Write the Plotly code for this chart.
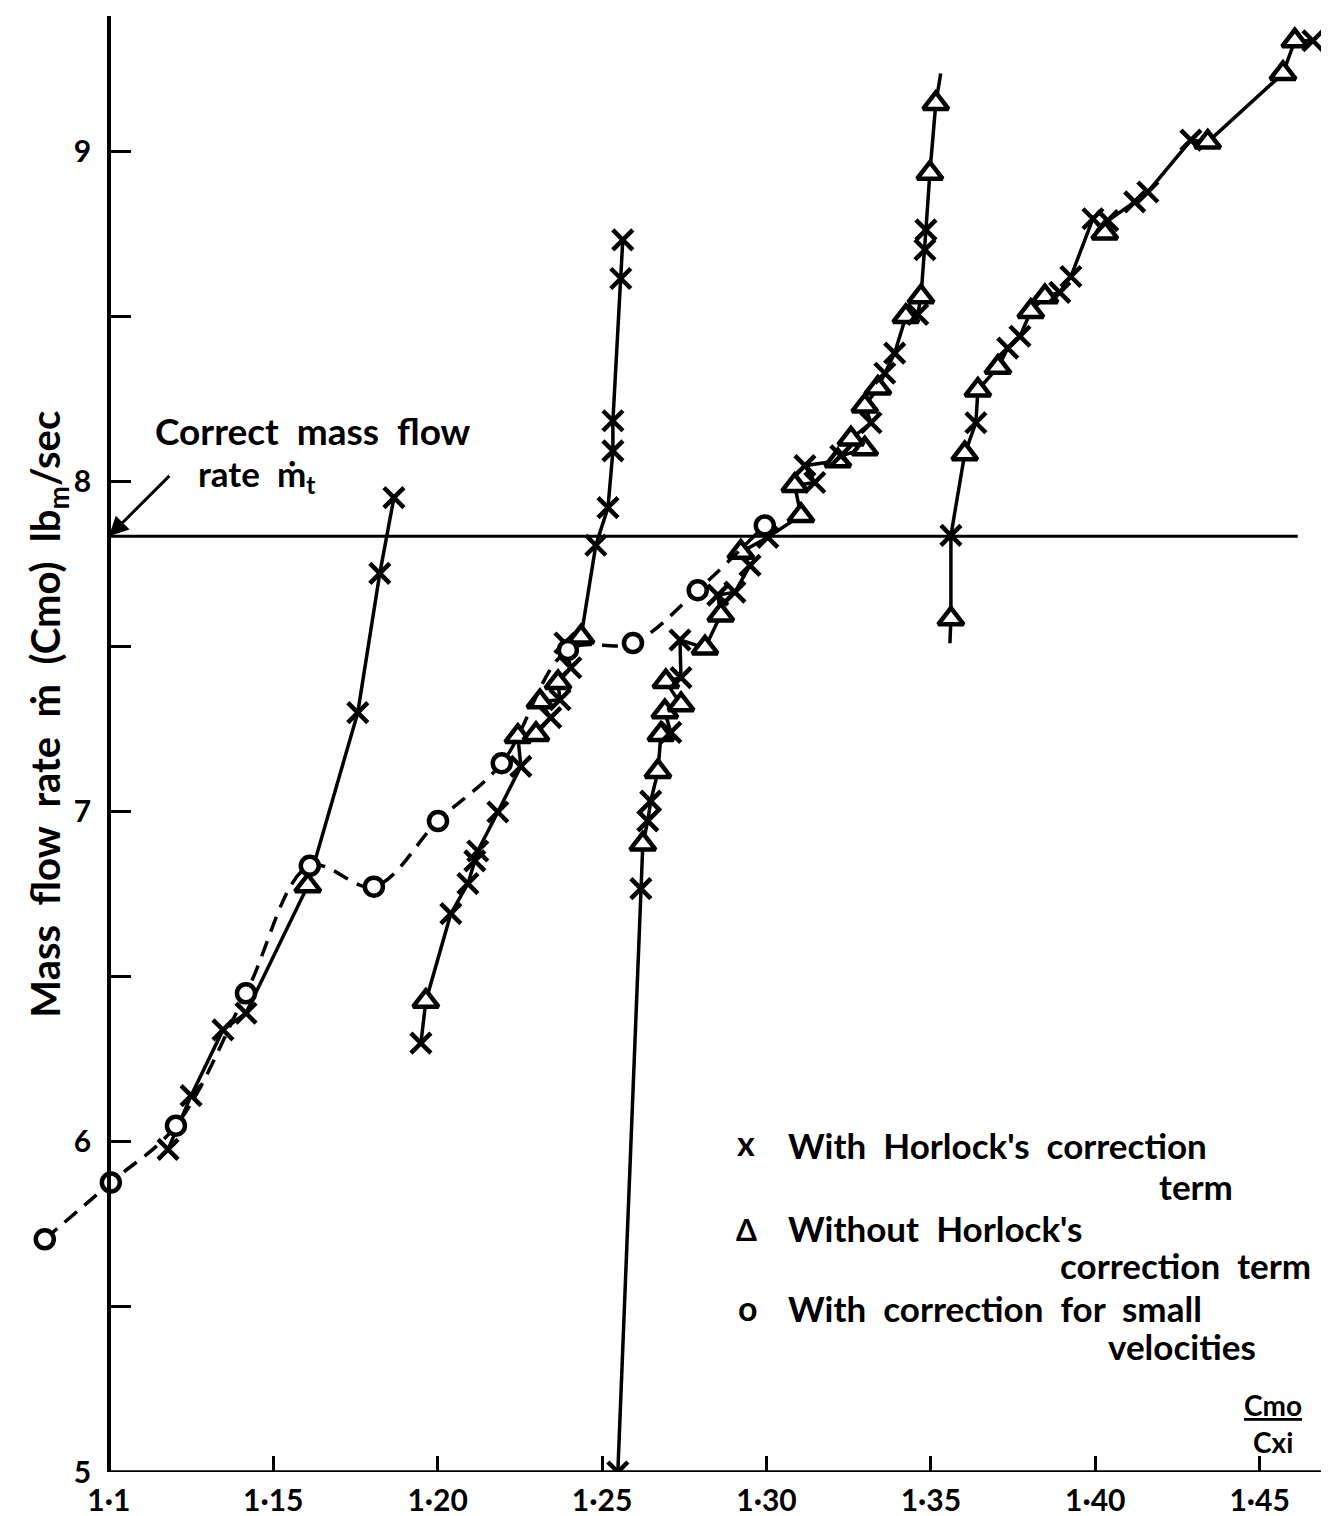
import plotly.graph_objects as go

# ---------------- data ----------------
# Curve with correction for small velocities (dashed, circles)
SMALL_VEL_X = [1.0805, 1.1006, 1.1204, 1.1417, 1.1611, 1.1806, 1.2001, 1.2195, 1.2396, 1.2594, 1.2791, 1.2995]
SMALL_VEL_Y = [5.705, 5.877, 6.049, 6.450, 6.836, 6.773, 6.972, 7.147, 7.490, 7.511, 7.671, 7.867]
SMALL_VEL_K = ['o'] * 12

# Solid curve 1 (left)
C1_X = [1.1180, 1.1250, 1.1347, 1.1417, 1.1605, 1.1757, 1.1824, 1.1867]
C1_Y = [5.977, 6.140, 6.339, 6.390, 6.776, 7.300, 7.722, 7.951]
C1_K = ['x', 'x', 'x', 'x', 'tri', 'x', 'x', 'x']

# Solid curve 2
C2_X = [1.1949, 1.1964, 1.2040, 1.2092, 1.2113, 1.2122, 1.2183, 1.2253, 1.2244, 1.2299, 1.2344,
        1.2311, 1.2372, 1.2366, 1.2405, 1.2387, 1.2436, 1.2481, 1.2518, 1.2533, 1.2533, 1.2557, 1.2563]
C2_Y = [6.299, 6.426, 6.691, 6.782, 6.851, 6.881, 6.999, 7.137, 7.228, 7.234, 7.285,
        7.333, 7.339, 7.391, 7.436, 7.511, 7.529, 7.807, 7.921, 8.093, 8.184, 8.615, 8.732]
C2_K = ['x', 'tri', 'x', 'x', 'x', 'x', 'x', 'x', 'tri', 'tri', 'x',
        'tri', 'x', 'tri', 'x', 'x', 'tri', 'x', 'x', 'x', 'x', 'x', 'x']

# Solid curve 3 (steep, from the axis up to ~9.2)
C3_X = [1.2548, 1.2618, 1.2624, 1.2639, 1.2648, 1.2670, 1.2679, 1.2709, 1.2691, 1.2740, 1.2694,
        1.2740, 1.2737, 1.2813, 1.2861, 1.2852, 1.2904, 1.2950, 1.2922, 1.3004, 1.3105, 1.3086,
        1.3147, 1.3117, 1.3217, 1.3226, 1.3299, 1.3257, 1.3318, 1.3299, 1.3339, 1.3360, 1.3390,
        1.3424, 1.3460, 1.3470, 1.3482, 1.3485, 1.3497, 1.3515, 1.3530]
C3_Y = [5.000, 6.767, 6.902, 6.972, 7.032, 7.122, 7.234, 7.240, 7.303, 7.324, 7.394,
        7.406, 7.520, 7.496, 7.596, 7.656, 7.665, 7.746, 7.786, 7.831, 7.897, 7.988,
        7.997, 8.048, 8.063, 8.078, 8.099, 8.129, 8.178, 8.229, 8.283, 8.328, 8.389,
        8.500, 8.506, 8.560, 8.702, 8.762, 8.934, 9.145, 9.236]
C3_K = ['x', 'x', 'tri', 'x', 'x', 'tri', 'tri', 'x', 'tri', 'tri', 'tri',
        'x', 'x', 'tri', 'tri', 'x', 'x', 'x', 'tri', 'x', 'tri', 'tri',
        'x', 'x', 'tri', 'x', 'tri', 'tri', 'x', 'tri', 'tri', 'x', 'x',
        'tri', 'x', 'tri', 'x', 'x', 'tri', 'tri', 'end']

# Solid curve 4 (right)
C4_X = [1.3558, 1.3561, 1.3561, 1.3603, 1.3637, 1.3643, 1.3704, 1.3734, 1.3771, 1.3804, 1.3847, 1.3892,
        1.3926, 1.3993, 1.4029, 1.4038, 1.4120, 1.4160, 1.4291, 1.4342, 1.4571, 1.4607, 1.4662]
C4_Y = [7.510, 7.584, 7.837, 8.084, 8.178, 8.277, 8.346, 8.404, 8.440, 8.515, 8.560, 8.573,
        8.621, 8.796, 8.753, 8.790, 8.847, 8.877, 9.034, 9.028, 9.236, 9.335, 9.335]
C4_K = ['end', 'tri', 'x', 'tri', 'x', 'tri', 'tri', 'x', 'x', 'tri', 'tri', 'x',
        'x', 'x', 'tri', 'x', 'x', 'x', 'x', 'tri', 'tri', 'tri', 'x']

CORRECT_RATE = 7.834
CORRECT_LINE_END = 1.4616

X_TICKS = [1.10, 1.15, 1.20, 1.25, 1.30, 1.35, 1.40, 1.45]
X_TICKTEXT = ['1·1', '1·15', '1·20', '1·25', '1·30', '1·35', '1·40', '1·45']
Y_TICKS = [5, 6, 7, 8, 9]
Y_TICKTEXT = ['5', '6', '7', '8', '9']

# ---------------- layout constants ----------------
W, H = 1329, 1516
ML, MR, MT, MB = 20, 7, 8, 45
XR = [1.0754, 1.4714]
YR = [5.0, 9.41]
FONT = 'Lato'

SYM = {'x': 'x-thin', 'tri': 'triangle-up', 'o': 'circle', 'end': 'circle'}
SIZE = {'x': 20, 'tri': 22, 'o': 18, 'end': 0}
FILL = {'x': 'black', 'tri': 'white', 'o': 'white', 'end': 'black'}


def px2paper(xp, yp):
    return (xp - ML) / (W - ML - MR), (H - MB - yp) / (H - MT - MB)


fig = go.Figure()


def add_curve(xs, ys, kinds, dash='solid', shape='linear'):
    fig.add_trace(go.Scatter(
        x=xs, y=ys, mode='lines+markers', line_shape=shape,
        line=dict(color='black', width=3.5, dash=dash),
        marker=dict(symbol=[SYM[k] for k in kinds], size=[SIZE[k] for k in kinds], opacity=1,
                    color=[FILL[k] for k in kinds], line=dict(color='#000000', width=4.5)),
        showlegend=False, hoverinfo='skip'))


add_curve(C1_X, C1_Y, C1_K)
add_curve(C2_X, C2_Y, C2_K)
add_curve(C3_X, C3_Y, C3_K)
add_curve(C4_X, C4_Y, C4_K)
add_curve(SMALL_VEL_X, SMALL_VEL_Y, SMALL_VEL_K, dash='16px,10px', shape='spline')

# correct mass flow line and x-axis baseline
fig.add_shape(type='line', xref='x', yref='y', x0=1.1, x1=CORRECT_LINE_END, y0=CORRECT_RATE, y1=CORRECT_RATE,
              line=dict(color='black', width=3))
fig.add_shape(type='line', xref='x', yref='y', x0=1.1, x1=XR[1], y0=YR[0], y1=YR[0],
              line=dict(color='black', width=3.5))

ann = []


def text(xp, yp, s, size=36, xanchor='left', yanchor='middle', angle=0):
    px_, py_ = px2paper(xp, yp)
    ann.append(dict(x=px_, y=py_, xref='paper', yref='paper', text=s, showarrow=False,
                    xanchor=xanchor, yanchor=yanchor, textangle=angle,
                    font=dict(family=FONT, size=size, color='black', weight='bold')))


# y-axis title
text(40, 710, 'Mass  flow  rate  ṁ  (Cmo)  lb<sub>m</sub>/sec', size=40, xanchor='center', angle=-90)
# correct mass flow annotation
text(145, 424, 'Correct  mass  flow', size=37)
text(188, 470, 'rate  ṁ<sub>t</sub>', size=35)
ann.append(dict(x=1.1, y=CORRECT_RATE, xref='x', yref='y', ax=62, ay=-62, text='', showarrow=True,
                arrowhead=2, arrowsize=1.3, arrowwidth=3, arrowcolor='black'))
# legend
text(738, 1140, 'x', size=34, xanchor='center')
text(778, 1142, 'With  Horlock\'s  correction', size=35)
text(1227, 1184, 'term', size=35, xanchor='right')
text(738, 1227, 'Δ', size=30, xanchor='center')
text(778, 1226, 'Without  Horlock\'s', size=35)
text(1305, 1263, 'correction  term', size=35, xanchor='right')
text(740, 1306, 'o', size=34, xanchor='center')
text(778, 1306, 'With  correction  for  small', size=35)
text(1250, 1344, 'velocities', size=35, xanchor='right')
# axis ratio label
text(1265, 1404, '<u>Cmo</u>', size=28, xanchor='center')
text(1265, 1441, 'Cxi', size=28, xanchor='center')

ypos = (1.1 - XR[0]) / (XR[1] - XR[0])

fig.update_layout(
    width=W, height=H, margin=dict(l=ML, r=MR, t=MT, b=MB),
    paper_bgcolor='white', plot_bgcolor='white',
    font=dict(family=FONT, color='black'),
    annotations=ann, showlegend=False,
    xaxis=dict(range=XR, showline=False, showgrid=False, zeroline=False,
               ticks='inside', ticklen=16, tickwidth=2.5, tickcolor='black',
               tickvals=X_TICKS, ticktext=X_TICKTEXT, ticklabelstandoff=8,
               tickfont=dict(family=FONT, size=30, color='black', weight='bold')),
    yaxis=dict(range=YR, anchor='free', position=ypos, showline=True, linecolor='black', linewidth=3.5,
               showgrid=False, zeroline=False,
               ticks='inside', ticklen=20, tickwidth=2.5, tickcolor='black',
               tickvals=Y_TICKS, ticktext=Y_TICKTEXT, ticklabelstandoff=10,
               minor=dict(dtick=0.5, ticks='inside', ticklen=20, tickwidth=2.5, tickcolor='black', showgrid=False),
               tickfont=dict(family=FONT, size=30, color='black', weight='bold')),
)

fig.write_html('out.html')
